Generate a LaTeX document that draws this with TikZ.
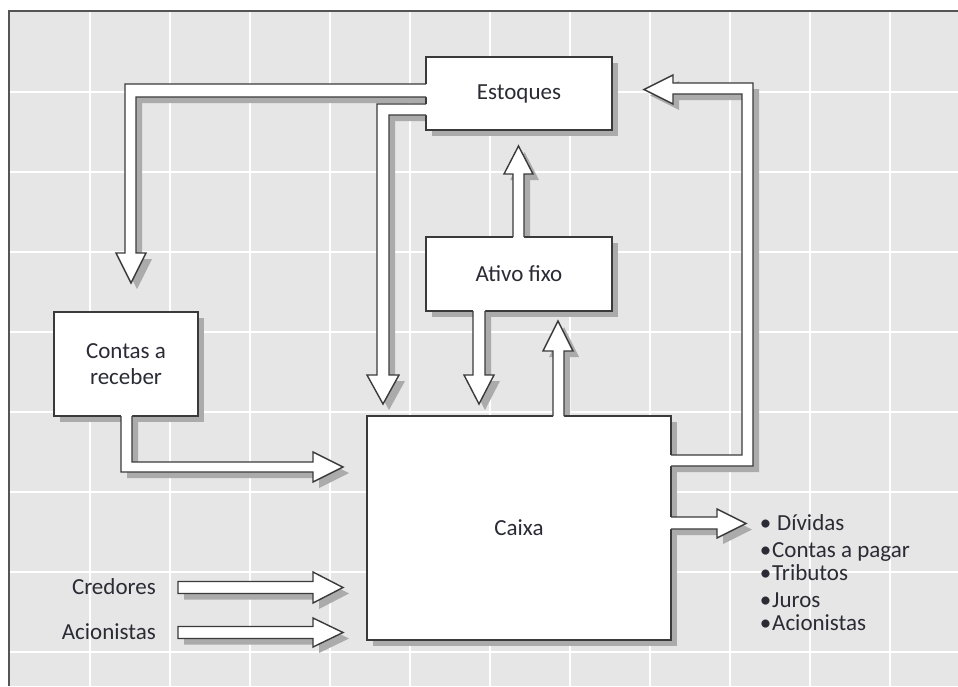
\documentclass[tikz,border=0pt]{standalone}
\usepackage{fontspec}
\setmainfont{Carlito}
\definecolor{bggray}{HTML}{E6E6E6}
\definecolor{shadowgray}{HTML}{ABABAB}
\definecolor{linegray}{HTML}{3A3A3A}
\definecolor{framec}{HTML}{555555}
\definecolor{textc}{HTML}{2B2B35}
\begin{document}
\begin{tikzpicture}[x=1pt,y=-1pt,
  outl/.style={draw=linegray, line width=1.4pt, line join=miter},
  boxst/.style={draw=linegray, line width=1.4pt, fill=white, inner sep=0pt, text=textc,
     font=\fontsize{23}{26}\selectfont, align=center},
  lbl/.style={font=\fontsize{23}{26}\selectfont, text=textc, inner sep=0pt}]
\useasboundingbox (0,0) rectangle (958,686);
\fill[white] (0,0) rectangle (958,686);
\fill[bggray] (9,11) rectangle (958,686);
\foreach \x in {90,170,...,890} \draw[white, line width=2pt] (\x,12) -- (\x,686);
\foreach \y in {92,172,...,652} \draw[white, line width=2pt] (10,\y) -- (958,\y);
\draw[framec, line width=1.5pt] (9,686) -- (9,11) -- (958,11);
% arrow paths: fill (closed, extended) and outline (open)
\def\fA{(429,84) -- (125,84) -- (125,253) -- (116,253) -- (131,283) -- (146,253) -- (136,253) -- (136,97) -- (429,97) -- cycle}
\def\dA{(426,84) -- (125,84) -- (125,253) -- (116,253) -- (131,283) -- (146,253) -- (136,253) -- (136,97) -- (426,97)}
\def\fB{(429,104) -- (377,104) -- (377,375) -- (367,375) -- (383,404) -- (399,375) -- (389,375) -- (389,115) -- (429,115) -- cycle}
\def\dB{(426,104) -- (377,104) -- (377,375) -- (367,375) -- (383,404) -- (399,375) -- (389,375) -- (389,115) -- (426,115)}
\def\fC{(513,240) -- (513,174) -- (504,174) -- (518.5,146) -- (533,174) -- (524,174) -- (524,240) -- cycle}
\def\dC{(513,237) -- (513,174) -- (504,174) -- (518.5,146) -- (533,174) -- (524,174) -- (524,237)}
\def\fD{(473,308) -- (473,375) -- (464,375) -- (479,404) -- (494,375) -- (485,375) -- (485,308) -- cycle}
\def\dD{(473,311) -- (473,375) -- (464,375) -- (479,404) -- (494,375) -- (485,375) -- (485,311)}
\def\fE{(553,419) -- (553,351) -- (543,351) -- (558,321) -- (573,351) -- (564,351) -- (564,419) -- cycle}
\def\dE{(553,416) -- (553,351) -- (543,351) -- (558,321) -- (573,351) -- (564,351) -- (564,416)}
\def\fF{(668,466) -- (753,466) -- (753,83) -- (673,83) -- (673,75) -- (644,89.5) -- (673,104) -- (673,94) -- (742,94) -- (742,455) -- (668,455) -- cycle}
\def\dF{(671,466) -- (753,466) -- (753,83) -- (673,83) -- (673,75) -- (644,89.5) -- (673,104) -- (673,94) -- (742,94) -- (742,455) -- (671,455)}
\def\fG{(668,517) -- (717,517) -- (717,509) -- (746,523.5) -- (717,538) -- (717,529) -- (668,529) -- cycle}
\def\dG{(671,517) -- (717,517) -- (717,509) -- (746,523.5) -- (717,538) -- (717,529) -- (671,529)}
\def\fH{(121,413) -- (121,472) -- (313,472) -- (313,482) -- (343,467) -- (313,452) -- (313,462) -- (132,462) -- (132,413) -- cycle}
\def\dH{(121,416) -- (121,472) -- (313,472) -- (313,482) -- (343,467) -- (313,452) -- (313,462) -- (132,462) -- (132,416)}
\def\fI{(178,581.5) -- (313,581.5) -- (313,572) -- (343,587.5) -- (313,603) -- (313,593.5) -- (178,593.5) -- cycle}
\def\fJ{(178,626.5) -- (313,626.5) -- (313,618) -- (343,632.5) -- (313,647) -- (313,638.5) -- (178,638.5) -- cycle}
% shadows
\begin{scope}[shift={(6,6)}, fill=shadowgray]
  \fill (426,57) rectangle (612,130);
  \fill (426,237) rectangle (612,311);
  \fill (54,312) rectangle (198,416);
  \fill (367,416) rectangle (671,640);
  \fill \fA; \fill \fB; \fill \fC; \fill \fD; \fill \fE;
  \fill \fF; \fill \fG; \fill \fH; \fill \fI; \fill \fJ;
\end{scope}
% boxes
\node[boxst, minimum width=186pt, minimum height=73pt] (est) at (519,93.5) {Estoques};
\node[boxst, minimum width=186pt, minimum height=74pt] (ativo) at (519,274) {Ativo fixo};
\node[boxst, minimum width=144pt, minimum height=104pt] (contas) at (126,364) {Contas a\\receber};
\node[boxst, minimum width=304pt, minimum height=224pt] (caixa) at (519,528) {Caixa};
% arrows
\fill[white] \fA; \draw[outl] \dA;
\fill[white] \fB; \draw[outl] \dB;
\fill[white] \fC; \draw[outl] \dC;
\fill[white] \fD; \draw[outl] \dD;
\fill[white] \fE; \draw[outl] \dE;
\fill[white] \fF; \draw[outl] \dF;
\fill[white] \fG; \draw[outl] \dG;
\fill[white] \fH; \draw[outl] \dH;
\filldraw[fill=white, outl] \fI;
\filldraw[fill=white, outl] \fJ;
% labels
\node[lbl, anchor=east] (cred) at (156,587) {Credores};
\node[lbl, anchor=east] (acio) at (156,632) {Acionistas};
\node[lbl, anchor=base west] (l1) at (777,530) {\llap{•\hspace{6pt}}Dívidas};
\node[lbl, anchor=base west] (l2) at (772,557) {\llap{•\hspace{1pt}}Contas a pagar};
\node[lbl, anchor=base west] (l3) at (772,580) {\llap{•\hspace{1pt}}Tributos};
\node[lbl, anchor=base west] (l4) at (772,607) {\llap{•\hspace{1pt}}Juros};
\node[lbl, anchor=base west] (l5) at (772,630) {\llap{•\hspace{1pt}}Acionistas};
\end{tikzpicture}
\end{document}
